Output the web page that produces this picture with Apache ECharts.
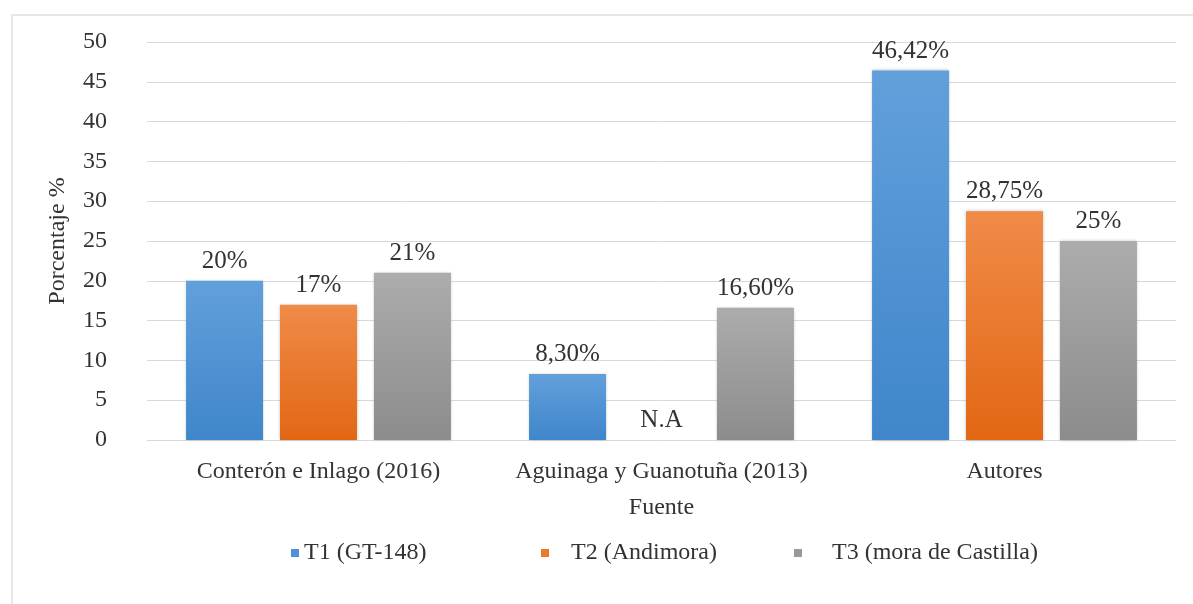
<!DOCTYPE html>
<html>
<head>
<meta charset="utf-8">
<script src="https://cdn.jsdelivr.net/npm/echarts@6/dist/echarts.min.js"></script>
<style>
  html, body { margin: 0; padding: 0; background: #fff; }
  #frame {
    position: absolute; left: 11px; top: 14px; width: 1182px; height: 590px;
    border-left: 2px solid #e6e6e6; border-top: 2px solid #e6e6e6;
  }
  #chart { position: absolute; left: 0; top: 0; width: 1193px; height: 604px; }
</style>
</head>
<body>
<div id="frame"></div>
<div id="chart"></div>
<script>
// fuentes en el eje x
const categories = ['Conterón e Inlago (2016)', 'Aguinaga y Guanotuña (2013)', 'Autores'];
// porcentajes por tratamiento (T2 no aplica en la segunda fuente)
const t1Values = [20, 8.3, 46.42];
const t2Values = [17, 0, 28.75];
const t3Values = [21, 16.6, 25];
// etiquetas tal como aparecen sobre las barras
const t1Labels = ['20%', '8,30%', '46,42%'];
const t2Labels = ['17%', 'N.A', '28,75%'];
const t3Labels = ['21%', '16,60%', '25%'];
const seriesNames = ['T1 (GT-148)', 'T2 (Andimora)', 'T3 (mora de Castilla)'];
const yTicks = [0, 5, 10, 15, 20, 25, 30, 35, 40, 45, 50];

const font = '"Liberation Serif", "DejaVu Serif", serif';
const textColor = '#333333';

function grad(top, bottom) {
  return new echarts.graphic.LinearGradient(0, 0, 0, 1, [
    { offset: 0, color: top },
    { offset: 1, color: bottom }
  ]);
}

function makeSeries(name, values, labels, top, bottom) {
  return {
    name: name,
    type: 'bar',
    barWidth: 77,
    barGap: '22%',
    data: values,
    itemStyle: {
      color: grad(top, bottom),
      shadowColor: 'rgba(0,0,0,0.25)',
      shadowBlur: 3
    },
    label: {
      show: true,
      position: 'top',
      distance: 7,
      fontFamily: font,
      fontSize: 25,
      color: textColor,
      formatter: p => labels[p.dataIndex]
    }
  };
}

// el hueco entre el cuadrito y el texto cambia en cada entrada
function makeLegend(name, left, color, textGap) {
  return {
    data: [{ name: name, itemStyle: { color: color } }],
    left: left,
    top: 536,
    icon: 'rect',
    itemWidth: 8,
    itemHeight: 8,
    textStyle: { fontFamily: font, fontSize: 24, color: textColor, padding: [0, 0, 0, textGap] }
  };
}

const chart = echarts.init(document.getElementById('chart'));
const option = {
  animation: false,
  backgroundColor: 'transparent',
  grid: { left: 147, right: 17, top: 42, bottom: 164 },
  legend: [
    makeLegend(seriesNames[0], 286, '#4f91d2', 0),
    makeLegend(seriesNames[1], 536, '#ea7a2c', 17),
    makeLegend(seriesNames[2], 789, '#999999', 25)
  ],
  xAxis: {
    type: 'category',
    data: categories,
    name: 'Fuente',
    nameLocation: 'middle',
    nameGap: 56,
    nameTextStyle: { fontFamily: font, fontSize: 24, color: textColor },
    axisTick: { show: false },
    axisLine: { lineStyle: { color: '#d9d9d9', width: 1 } },
    axisLabel: { fontFamily: font, fontSize: 24, color: textColor, margin: 20, interval: 0, hideOverlap: false }
  },
  yAxis: {
    type: 'value',
    min: yTicks[0],
    max: yTicks[yTicks.length - 1],
    interval: 5,
    name: 'Porcentaje %',
    nameLocation: 'middle',
    nameGap: 77,
    nameRotate: 90,
    nameTextStyle: { fontFamily: font, fontSize: 24, color: textColor },
    axisLine: { show: false },
    axisTick: { show: false },
    splitLine: { lineStyle: { color: '#d9d9d9', width: 1 } },
    axisLabel: { fontFamily: font, fontSize: 24, color: textColor, margin: 40 }
  },
  series: [
    makeSeries(seriesNames[0], t1Values, t1Labels, '#62a0db', '#3f86cb'),
    makeSeries(seriesNames[1], t2Values, t2Labels, '#f08b48', '#e26714'),
    makeSeries(seriesNames[2], t3Values, t3Labels, '#acacac', '#8c8c8c')
  ]
};
chart.setOption(option);
</script>
</body>
</html>
